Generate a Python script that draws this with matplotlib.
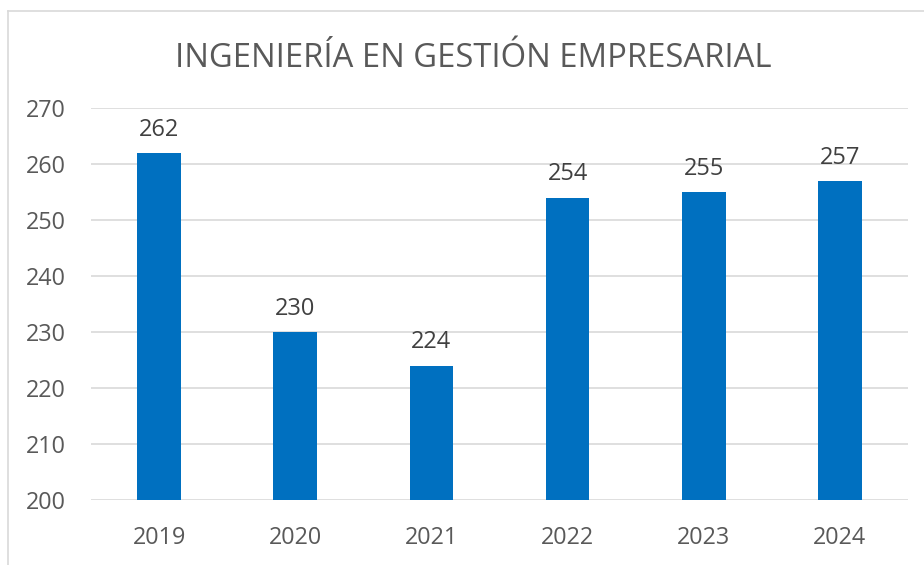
import matplotlib
matplotlib.use('Agg')
import matplotlib.pyplot as plt
from matplotlib.lines import Line2D
import numpy as np

years = ['2019', '2020', '2021', '2022', '2023', '2024']
students = [262, 230, 224, 254, 255, 257]
title = 'INGENIERÍA EN GESTIÓN EMPRESARIAL'

plt.rcParams['font.family'] = ['Open Sans', 'DejaVu Sans']

fig = plt.figure(figsize=(9.24, 5.65), dpi=100)
ax = fig.add_axes([0.0985, 0.115, 0.8842, 0.694])

ind = np.arange(len(years))
bars = ax.bar(ind, students, width=0.32, color='#0070C0', zorder=3)

ax.set_ylim(200, 270)
ax.set_xlim(-0.5, len(years) - 0.5)
ax.set_yticks(range(200, 271, 10))
ax.set_xticks(ind)
ax.set_xticklabels(years)
ax.grid(axis='y', color='#D9D9D9', linewidth=1.2, zorder=0)
for s in ax.spines.values():
    s.set_visible(False)
ax.tick_params(length=0, labelsize=16.8, colors='#595959')
ax.tick_params(axis='y', pad=18)
ax.tick_params(axis='x', pad=19)

for rect in bars:
    h = rect.get_height()
    ax.annotate('{0:d}'.format(int(h)),
                xy=(rect.get_x() + rect.get_width() / 2, h),
                xytext=(0, 8), textcoords='offset points',
                ha='center', va='bottom', fontsize=17, color='#404040')

fig.text(0.512, 0.897, title, ha='center', va='center', fontsize=23.6, color='#595959')

# chart border (left and top visible)
fig.add_artist(Line2D([8 / 924, 8 / 924], [0, 1 - 11 / 565], transform=fig.transFigure, color='#D9D9D9', linewidth=1.2))
fig.add_artist(Line2D([8 / 924, 1], [1 - 11 / 565, 1 - 11 / 565], transform=fig.transFigure, color='#D9D9D9', linewidth=1.2))

fig.savefig('out.png', dpi=100)
